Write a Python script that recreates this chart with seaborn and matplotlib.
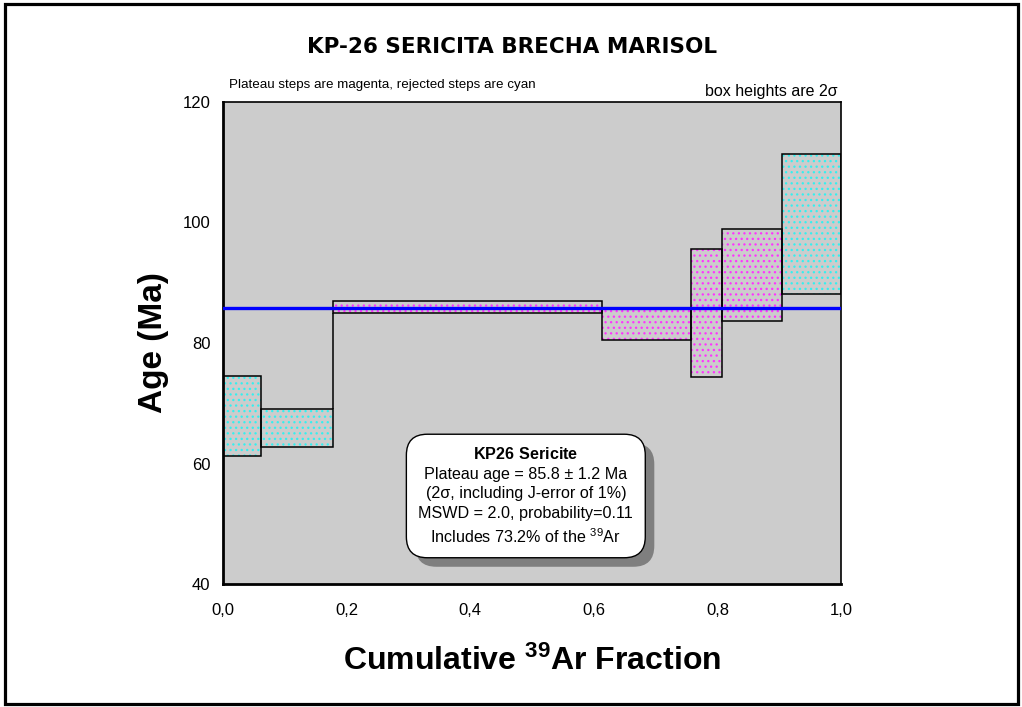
import numpy as np
import pandas as pd
import matplotlib
matplotlib.use('Agg')
import matplotlib.pyplot as plt
import matplotlib.patheffects as pe
from matplotlib.patches import Rectangle
import seaborn as sns

# ---------------- data ----------------
title = 'KP-26 SERICITA BRECHA MARISOL'
cum_edges = [0.0, 0.0615, 0.1785, 0.614, 0.758, 0.808, 0.9045, 1.0]
age_low = [61.2, 62.8, 84.95, 80.45, 74.4, 83.6, 88.1]
age_high = [74.6, 69.05, 86.95, 85.86, 95.55, 98.96, 111.3]
in_plateau = [False, False, True, True, True, True, False]
plateau_age = 85.8
x_ticks = [0.0, 0.2, 0.4, 0.6, 0.8, 1.0]
x_tick_labels = ['0,0', '0,2', '0,4', '0,6', '0,8', '1,0']
x_minor = [0.1, 0.3, 0.5, 0.7, 0.9]
y_ticks = [40, 60, 80, 100, 120]
y_tick_labels = ['40', '60', '80', '100', '120']
y_minor = [50, 70, 90, 110]
note_left = 'Plateau steps are magenta, rejected steps are cyan'
note_right = 'box heights are 2σ'
info_lines = [r'$\mathbf{KP26\ Sericite}$',
              'Plateau age = 85.8 ± 1.2 Ma',
              '(2σ, including J-error of 1%)',
              'MSWD = 2.0, probability=0.11',
              r'Includes 73.2% of the $^{39}$Ar']
xlabel = r'Cumulative $^{39}$Ar Fraction'
ylabel = 'Age (Ma)'

# ---------------- style ----------------
sns.set_theme(style='white')
plt.rcParams['font.family'] = ['Liberation Sans', 'DejaVu Sans']
plt.rcParams['text.color'] = 'black'
plt.rcParams['axes.labelcolor'] = 'black'
plt.rcParams['mathtext.fontset'] = 'custom'
plt.rcParams['mathtext.rm'] = 'Liberation Sans'
plt.rcParams['mathtext.bf'] = 'Liberation Sans:bold'
plt.rcParams['mathtext.default'] = 'regular'
plt.rcParams['hatch.linewidth'] = 0.9

df = pd.DataFrame({
    'left': cum_edges[:-1],
    'width': np.diff(cum_edges),
    'low': age_low,
    'high': age_high,
    'plateau': in_plateau,
})
df['height'] = df['high'] - df['low']
df['color'] = np.where(df['plateau'], '#ff33ff', '#33f0f0')

fig = plt.figure(figsize=(10.22, 7.07), dpi=100)
W, H = 1022, 707
ax = fig.add_axes([223 / W, 1 - 584 / H, 618 / W, 482 / H])
ax.set_facecolor('#cccccc')

# hatched dots
for col, sub in df.groupby('color'):
    ax.bar(sub['left'], sub['height'], width=sub['width'], bottom=sub['low'],
           align='edge', color='none', edgecolor=col, hatch='...',
           linewidth=0, zorder=2)
# outlines
ax.bar(df['left'], df['height'], width=df['width'], bottom=df['low'],
       align='edge', fill=False, edgecolor='black', linewidth=1.1, zorder=3)

# connecting vertical lines between non-overlapping steps
for i in range(len(df) - 1):
    a, b = df.iloc[i], df.iloc[i + 1]
    if a['high'] < b['low']:
        ax.vlines(cum_edges[i + 1], a['high'], b['low'], color='black', lw=1.1, zorder=3)
    elif b['high'] < a['low']:
        ax.vlines(cum_edges[i + 1], b['high'], a['low'], color='black', lw=1.1, zorder=3)

# plateau line
sns.lineplot(x=[cum_edges[0], cum_edges[-1]], y=[plateau_age, plateau_age],
             color='#0000ff', linewidth=2.4, ax=ax, zorder=4)

ax.set_xlim(0, 1)
ax.set_ylim(40, 120)
ax.set_xticks(x_ticks)
ax.set_xticklabels(x_tick_labels)
ax.set_xticks(x_minor, minor=True)
ax.set_yticks(y_ticks)
ax.set_yticklabels(y_tick_labels)
ax.set_yticks(y_minor, minor=True)
ax.tick_params(axis='both', which='both', direction='in', length=5, width=1.2,
               colors='black', labelsize=12)
ax.tick_params(axis='x', which='major', pad=14)
ax.tick_params(axis='y', which='major', pad=9)
ax.grid(False)

for side in ['left', 'bottom']:
    ax.spines[side].set_linewidth(2.0)
for side in ['top', 'right']:
    ax.spines[side].set_linewidth(1.2)
for s in ax.spines.values():
    s.set_color('black')
    s.set_visible(True)

ax.set_xlabel(xlabel, fontsize=23, fontweight='bold', color='black')
ax.xaxis.set_label_coords(0.5, -0.128)
ax.set_ylabel(ylabel, fontsize=24, fontweight='bold', color='black')
ax.yaxis.set_label_coords(-0.088, 0.5)

ax.text(0.0097, 1.035, note_left, transform=ax.transAxes, fontsize=9.6,
        ha='left', va='center', color='black')
ax.text(0.995, 1.022, note_right, transform=ax.transAxes, fontsize=11.5,
        ha='right', va='center', color='black')

t = ax.text(0.49, 0.1826, '\n'.join(info_lines), transform=ax.transAxes,
            fontsize=11.6, ha='center', va='center', color='black',
            linespacing=1.38, zorder=6,
            bbox=dict(boxstyle='round,pad=0.75,rounding_size=1.3',
                      facecolor='white', edgecolor='black', linewidth=1.0))
t.get_bbox_patch().set_path_effects([
    pe.SimplePatchShadow(offset=(6.5, -6.5), shadow_rgbFace='#7f7f7f', alpha=1.0),
    pe.Normal()])

fig.text(512 / W, 1 - 47 / H, title, fontsize=15.5, fontweight='bold',
         ha='center', va='center', family=['DejaVu Sans'], color='black')

fig.patches.append(Rectangle((5 / W, 1 - 704 / H), 1013 / W, 700 / H,
                             transform=fig.transFigure, fill=False,
                             edgecolor='black', linewidth=2.3))

fig.savefig('out.png', dpi=100)
